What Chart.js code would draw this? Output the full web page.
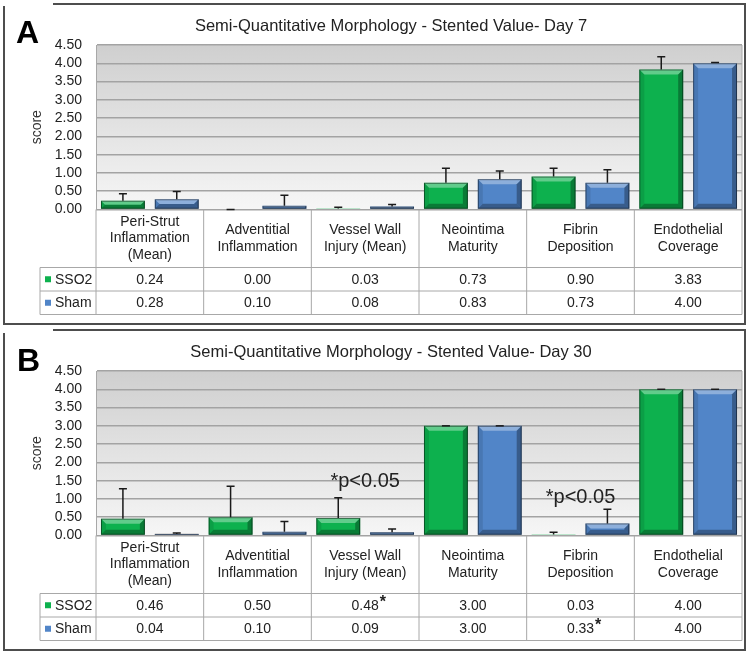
<!DOCTYPE html>
<html>
<head>
<meta charset="utf-8">
<script src="https://cdn.jsdelivr.net/npm/chart.js@4.4.1/dist/chart.umd.min.js"></script>
<style>
  body { margin: 0; width: 749px; height: 655px; background: #fff; position: relative; overflow: hidden; }
  .panel { position: absolute; left: 3px; width: 739px; height: 318px; border: 2px solid #4d4d4d; background: #fff; }
  #panelA { top: 3px; }
  #panelB { top: 329px; }
  .panel canvas { display: block; }
  .cover { position: absolute; left: 0; width: 53px; height: 5px; background: #fff; }
  .tag { position: absolute; font: bold 32px/32px "Liberation Sans", Arial, sans-serif; color: #000; }
</style>
</head>
<body>
<div class="panel" id="panelA"><canvas id="chartA" width="739" height="318"></canvas></div>
<div class="panel" id="panelB"><canvas id="chartB" width="739" height="318"></canvas></div>
<div class="cover" style="top:1px"></div>
<div class="cover" style="top:328px"></div>
<div class="tag" style="left:16px;top:16px">A</div>
<div class="tag" style="left:17px;top:344px">B</div>
<script>
// categories (table header lines)
const categories = [
  ['Peri-Strut', 'Inflammation', '(Mean)'],
  ['Adventitial', 'Inflammation'],
  ['Vessel Wall', 'Injury (Mean)'],
  ['Neointima', 'Maturity'],
  ['Fibrin', 'Deposition'],
  ['Endothelial', 'Coverage'],
];
const seriesNames = ['SSO2', 'Sham'];
const yTicks = [0, 0.5, 1, 1.5, 2, 2.5, 3, 3.5, 4, 4.5];

// Day 7
const day7SSO2 = [0.24, 0.00, 0.03, 0.73, 0.90, 3.83];
const day7Sham = [0.28, 0.10, 0.08, 0.83, 0.73, 4.00];
const day7SSO2Err = [0.19, 0.00, 0.03, 0.40, 0.23, 0.35];
const day7ShamErr = [0.21, 0.29, 0.06, 0.22, 0.36, 0.02];

// Day 30
const day30SSO2 = [0.46, 0.50, 0.48, 3.00, 0.03, 4.00];
const day30Sham = [0.04, 0.10, 0.09, 3.00, 0.33, 4.00];
const day30SSO2Err = [0.82, 0.85, 0.55, 0.00, 0.06, 0.00];
const day30ShamErr = [0.03, 0.28, 0.09, 0.00, 0.39, 0.00];
const day30SSO2Sig = [false, false, true, false, false, false];
const day30ShamSig = [false, false, false, false, true, false];

// significance notes for day 30: category index and value at text baseline
const noteCategories = [2, 4];
const noteValues = [1.33, 0.90];
const noteText = '*p<0.05';

const GREEN = '#0db14e';
const BLUE = '#5185c8';
const FONT = '"Liberation Sans", Arial, sans-serif';
const TEXT = '#222';
const LINE = '#a8a8a8';

const plotBg = {
  id: 'plotBg',
  beforeDraw(chart) {
    const { ctx, chartArea: a } = chart;
    const g = ctx.createLinearGradient(0, a.top, 0, a.bottom);
    g.addColorStop(0, '#cfcfcf');
    g.addColorStop(1, '#f6f6f6');
    ctx.save();
    ctx.fillStyle = g;
    ctx.fillRect(a.left, a.top, a.right - a.left, a.bottom - a.top);
    ctx.restore();
  },
  afterDraw(chart) {
    const { ctx, chartArea: a } = chart;
    ctx.save();
    ctx.strokeStyle = LINE;
    ctx.lineWidth = 1;
    ctx.beginPath();
    ctx.moveTo(a.right, a.top);
    ctx.lineTo(a.right, a.bottom);
    ctx.stroke();
    ctx.restore();
  },
};

// fake 3d bevel on each bar
const bevel = {
  id: 'bevel',
  afterDatasetsDraw(chart) {
    const ctx = chart.ctx;
    ctx.save();
    chart.data.datasets.forEach((ds, d) => {
      chart.getDatasetMeta(d).data.forEach(el => {
        const p = el.getProps(['x', 'y', 'base', 'width'], true);
        const l = p.x - p.width / 2, r = p.x + p.width / 2, t = p.y, btm = p.base;
        const h = btm - t;
        if (h < 0.5) return;
        const b = Math.min(5, h / 2);
        const poly = (pts, fill) => {
          ctx.beginPath();
          ctx.moveTo(pts[0][0], pts[0][1]);
          pts.slice(1).forEach(q => ctx.lineTo(q[0], q[1]));
          ctx.closePath();
          ctx.fillStyle = fill;
          ctx.fill();
        };
        poly([[l, t], [r, t], [r - b, t + b], [l + b, t + b]], 'rgba(255,255,255,0.35)');
        poly([[l, t], [l + b, t + b], [l + b, btm - b], [l, btm]], 'rgba(0,0,0,0.10)');
        poly([[r, t], [r - b, t + b], [r - b, btm - b], [r, btm]], 'rgba(0,0,0,0.30)');
        poly([[l, btm], [l + b, btm - b], [r - b, btm - b], [r, btm]], 'rgba(0,0,0,0.30)');
        ctx.strokeStyle = 'rgba(0,0,0,0.45)';
        ctx.lineWidth = 1;
        ctx.strokeRect(l + 0.5, t + 0.5, p.width - 1, h - 1);
      });
    });
    ctx.restore();
  },
};

const errorBars = {
  id: 'errorBars',
  afterDatasetsDraw(chart) {
    const { ctx, scales: { y } } = chart;
    ctx.save();
    ctx.strokeStyle = '#1a1a1a';
    ctx.lineWidth = 1.5;
    chart.data.datasets.forEach((ds, d) => {
      chart.getDatasetMeta(d).data.forEach((el, i) => {
        const top = y.getPixelForValue(ds.data[i] + ds.errors[i]);
        const yb = y.getPixelForValue(ds.data[i]);
        ctx.beginPath();
        ctx.moveTo(el.x, yb);
        ctx.lineTo(el.x, top);
        ctx.moveTo(el.x - 4, top);
        ctx.lineTo(el.x + 4, top);
        ctx.stroke();
      });
    });
    ctx.restore();
  },
};

const panelTitle = {
  id: 'panelTitle',
  afterDraw(chart, args, opts) {
    const ctx = chart.ctx;
    ctx.save();
    ctx.font = '16.5px ' + FONT;
    ctx.fillStyle = TEXT;
    ctx.textAlign = 'center';
    ctx.textBaseline = 'middle';
    ctx.fillText(opts.text, 386, 21);
    ctx.restore();
  },
};

const notes = {
  id: 'notes',
  afterDraw(chart, args, opts) {
    if (!opts.cats) return;
    const { ctx, scales: { x, y } } = chart;
    ctx.save();
    ctx.font = '20px ' + FONT;
    ctx.fillStyle = TEXT;
    ctx.textAlign = 'center';
    ctx.textBaseline = 'alphabetic';
    opts.cats.forEach((c, i) => {
      ctx.fillText(opts.text, x.getPixelForValue(c), y.getPixelForValue(opts.values[i]));
    });
    ctx.restore();
  },
};

// data table under the plot
const dataTable = {
  id: 'dataTable',
  afterDraw(chart) {
    const { ctx, chartArea: a, scales: { x } } = chart;
    const n = chart.data.labels.length;
    const headH = 58, rowH = 23.5, labelLeft = 35;
    const top = a.bottom, headBottom = top + headH;
    const bottom = headBottom + rowH * chart.data.datasets.length;
    const edges = [];
    for (let i = 0; i <= n; i++) edges.push(i === 0 ? a.left : i === n ? a.right : (x.getPixelForValue(i - 1) + x.getPixelForValue(i)) / 2);

    ctx.save();
    ctx.strokeStyle = LINE;
    ctx.lineWidth = 1;
    ctx.beginPath();
    edges.forEach(e => { ctx.moveTo(e, top); ctx.lineTo(e, bottom); });
    ctx.moveTo(labelLeft, headBottom); ctx.lineTo(labelLeft, bottom);
    for (let r = 0; r <= chart.data.datasets.length; r++) {
      const yy = headBottom + r * rowH;
      ctx.moveTo(labelLeft, yy); ctx.lineTo(a.right, yy);
    }
    ctx.stroke();

    ctx.fillStyle = TEXT;
    ctx.font = '14px ' + FONT;
    ctx.textAlign = 'center';
    ctx.textBaseline = 'middle';
    chart.data.labels.forEach((lines, i) => {
      const cx = x.getPixelForValue(i);
      const lh = 16.5;
      const y0 = top + headH / 2 - (lines.length - 1) * lh / 2;
      lines.forEach((t, k) => ctx.fillText(t, cx, y0 + k * lh));
    });

    chart.data.datasets.forEach((ds, r) => {
      const cy = headBottom + r * rowH + rowH / 2;
      ctx.fillStyle = ds.backgroundColor;
      ctx.fillRect(labelLeft + 5, cy - 3, 6, 6);
      ctx.fillStyle = TEXT;
      ctx.textAlign = 'left';
      ctx.font = '14px ' + FONT;
      ctx.fillText(ds.label, labelLeft + 15, cy + 0.5);
      ctx.textAlign = 'center';
      ds.data.forEach((v, i) => {
        const cx = x.getPixelForValue(i);
        const s = v.toFixed(2);
        ctx.font = '14px ' + FONT;
        ctx.fillText(s, cx, cy + 0.5);
        if (ds.sig && ds.sig[i]) {
          const w = ctx.measureText(s).width;
          ctx.font = 'bold 16px ' + FONT;
          ctx.textAlign = 'left';
          ctx.fillText('*', cx + w / 2 + 1, cy - 3);
          ctx.textAlign = 'center';
        }
      });
    });
    ctx.restore();
  },
};

function makePanel(id, title, sso2, sham, sso2Err, shamErr, sso2Sig, shamSig, noteOpts) {
  return new Chart(document.getElementById(id), {
    type: 'bar',
    data: {
      labels: categories,
      datasets: [
        { label: seriesNames[0], data: sso2, errors: sso2Err, sig: sso2Sig, backgroundColor: GREEN, borderWidth: 0 },
        { label: seriesNames[1], data: sham, errors: shamErr, sig: shamSig, backgroundColor: BLUE, borderWidth: 0 },
      ],
    },
    options: {
      responsive: false,
      animation: false,
      categoryPercentage: 1.0,
      barPercentage: 0.815,
      layout: { padding: { top: 40, right: 2, bottom: 113.5, left: 0 } },
      plugins: {
        legend: { display: false },
        tooltip: { enabled: false },
        panelTitle: { text: title },
        notes: noteOpts,
      },
      scales: {
        x: { display: false },
        y: {
          min: 0,
          max: 4.5,
          afterFit(scale) { scale.width = 91; },
          afterBuildTicks(scale) { scale.ticks = yTicks.map(v => ({ value: v })); },
          ticks: {
            autoSkip: false,
            padding: 14,
            color: TEXT,
            font: { family: FONT, size: 14 },
            callback: v => v.toFixed(2),
          },
          grid: { color: '#a3a3a3', lineWidth: 1.5, drawTicks: false },
          border: { color: LINE, width: 1 },
          title: {
            display: true,
            text: 'score',
            color: '#333',
            font: { family: FONT, size: 14 },
            padding: { top: 23.6, bottom: 0 },
          },
        },
      },
    },
    plugins: [plotBg, bevel, errorBars, panelTitle, notes, dataTable],
  });
}

makePanel('chartA', 'Semi-Quantitative Morphology - Stented Value- Day 7',
  day7SSO2, day7Sham, day7SSO2Err, day7ShamErr, null, null, {});
makePanel('chartB', 'Semi-Quantitative Morphology - Stented Value- Day 30',
  day30SSO2, day30Sham, day30SSO2Err, day30ShamErr, day30SSO2Sig, day30ShamSig,
  { cats: noteCategories, values: noteValues, text: noteText });
</script>
</body>
</html>
